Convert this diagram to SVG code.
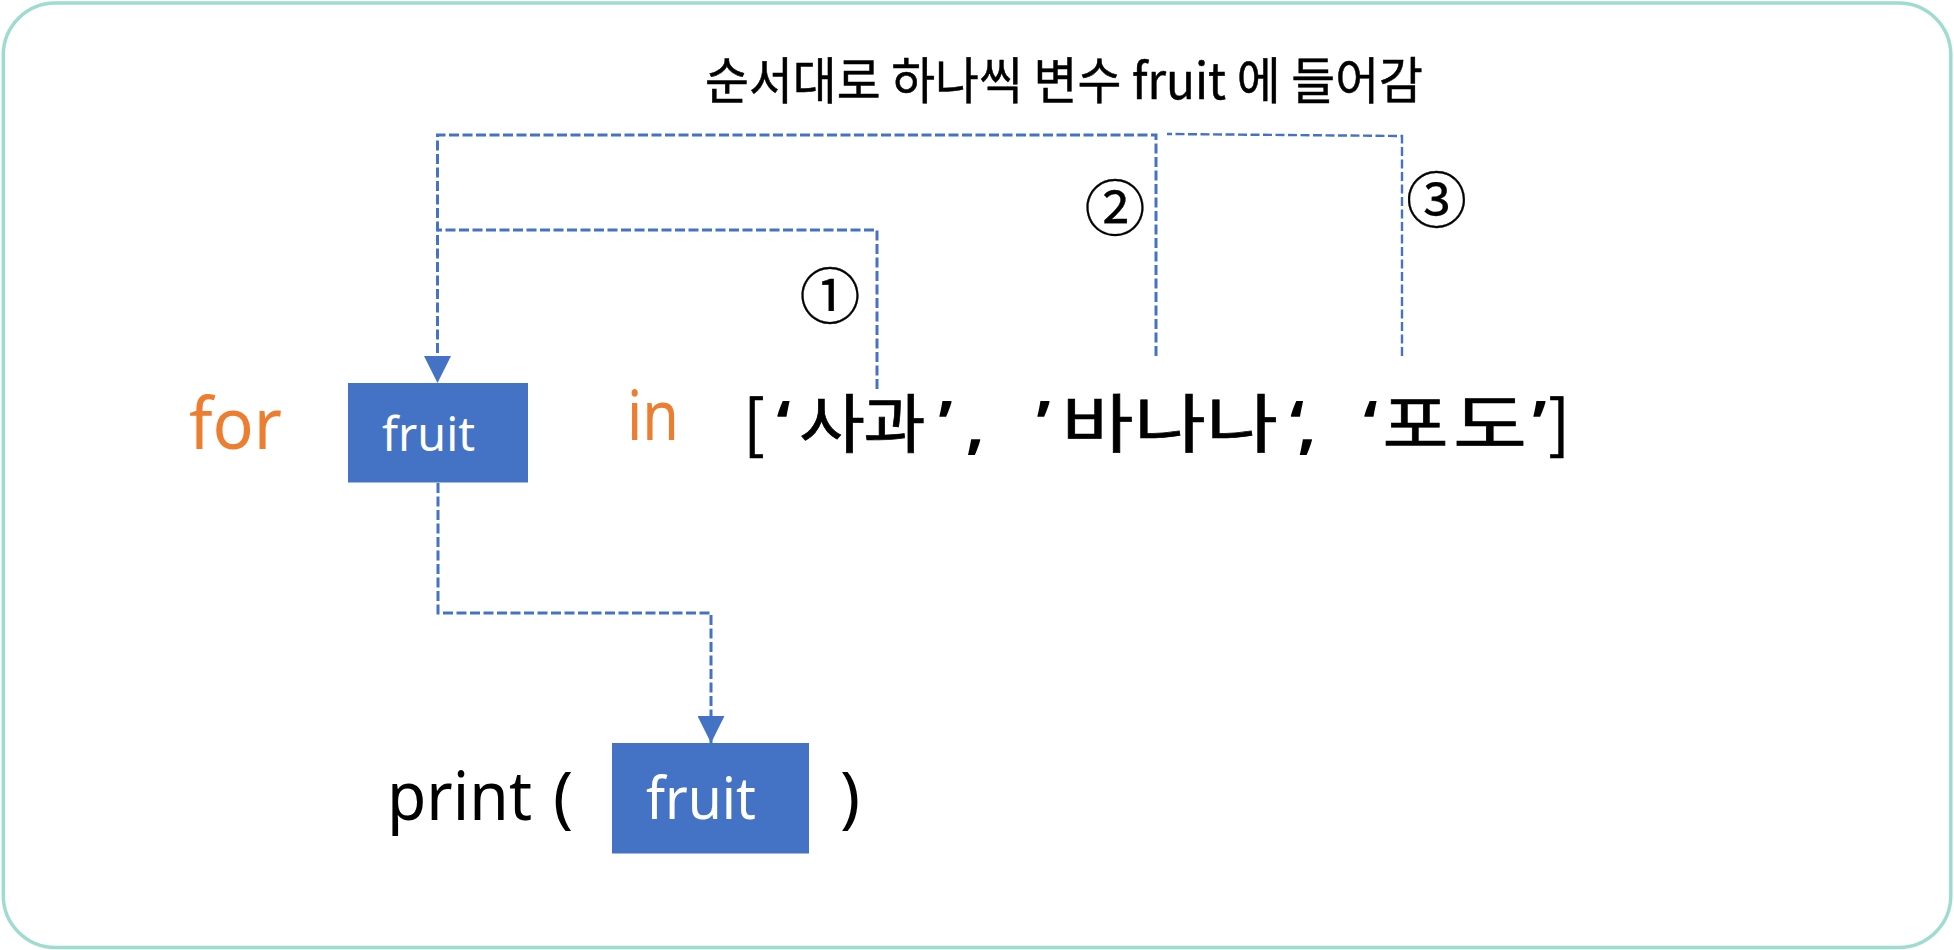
<svg xmlns="http://www.w3.org/2000/svg" width="1954" height="950" viewBox="0 0 1954 950">
<style>
.frame{fill:#fff;stroke:#9fdcd0;stroke-width:3.5}
.box{fill:#4472c4}
.conn{fill:none;stroke:#4472c4;stroke-width:3;stroke-dasharray:10 3.5}
.thin{stroke-width:2.4;stroke-dasharray:9 3.5}
.kr{font-family:"Noto Sans CJK KR","Noto Sans",sans-serif;fill:#000;stroke:#000;font-weight:400}
.q{font-family:"Noto Sans","Noto Sans CJK KR",sans-serif;font-weight:700;stroke-width:0}
.lat{font-family:"Noto Sans","Open Sans",sans-serif}
.kw{fill:#ed7d31}
.wt{fill:#fff}
</style>
<defs>
<marker id="ah" markerUnits="userSpaceOnUse" markerWidth="27" markerHeight="27" viewBox="0 0 27 27" refX="27" refY="13.5" orient="auto">
<path d="M0,0 L27,13.5 L0,27 z" fill="#4472c4"/>
</marker>
</defs>
<rect class="frame" x="3.3" y="3" width="1947.5" height="944.5" rx="52"/>
<g id="connectors">
<path class="conn" d="M877,389 V230 H437.5"/>
<path class="conn" d="M1156,356 V135 H437.5 V383" marker-end="url(#ah)"/>
<path class="conn thin" d="M1402,356 V136 L1167,134"/>
<path class="conn" d="M438,483 V613 H711 V743" marker-end="url(#ah)"/>
</g>
<g id="title">
<text class="kr" x="705" y="98.5" font-size="50" stroke-width="0.5" textLength="718" lengthAdjust="spacingAndGlyphs">순서대로 하나씩 변수 fruit 에 들어감</text>
</g>
<g id="step1"><text class="kr" x="830" y="319" font-size="61" stroke-width="0.3" text-anchor="middle">①</text></g>
<g id="step2"><text class="kr" x="1115" y="231" font-size="61" stroke-width="0.3" text-anchor="middle">②</text></g>
<g id="step3"><text class="kr" x="1436.5" y="222.5" font-size="61" stroke-width="0.3" text-anchor="middle">③</text></g>
<g id="for"><text class="lat kw" x="189" y="449" font-size="72" textLength="93" lengthAdjust="spacingAndGlyphs">for</text></g>
<g id="fruit-var">
<rect class="box" x="348" y="383" width="180" height="99.5"/>
<text class="lat wt" x="382" y="450.7" font-size="47" textLength="93" lengthAdjust="spacingAndGlyphs">fruit</text>
</g>
<g id="in"><text class="lat kw" x="627" y="440" font-size="70" textLength="52" lengthAdjust="spacingAndGlyphs">in</text></g>
<g id="list">
<text class="kr" y="446.5" font-size="64" stroke-width="0.7" text-anchor="middle"><tspan x="754">[</tspan><tspan class="q" x="783.5">‘</tspan><tspan x="832" textLength="66" lengthAdjust="spacingAndGlyphs">사</tspan><tspan x="894.5" textLength="62" lengthAdjust="spacingAndGlyphs">과</tspan><tspan class="q" x="945.5">’</tspan><tspan class="q" x="975">,</tspan><tspan class="q" x="1043.5">’</tspan><tspan x="1097.5" textLength="72" lengthAdjust="spacingAndGlyphs">바</tspan><tspan x="1170" textLength="72" lengthAdjust="spacingAndGlyphs">나</tspan><tspan x="1242" textLength="72" lengthAdjust="spacingAndGlyphs">나</tspan><tspan class="q" x="1300" letter-spacing="-6">‘,</tspan><tspan class="q" x="1370.5">‘</tspan><tspan x="1415.5" textLength="66" lengthAdjust="spacingAndGlyphs">포</tspan><tspan x="1490" textLength="74" lengthAdjust="spacingAndGlyphs">도</tspan><tspan class="q" x="1539.5">’</tspan><tspan x="1559">]</tspan></text>
</g>
<g id="print">
<text class="lat" x="387" y="820" font-size="67" fill="#000"><tspan x="387" textLength="145" lengthAdjust="spacingAndGlyphs">print</tspan> <tspan x="553">(</tspan></text>
</g>
<g id="fruit-arg">
<rect class="box" x="612" y="743" width="197" height="110.5"/>
<text class="lat wt" x="646" y="819" font-size="58" textLength="110" lengthAdjust="spacingAndGlyphs">fruit</text>
</g>
<g id="close"><text class="lat" x="840" y="820" font-size="67" fill="#000">)</text></g>
</svg>
